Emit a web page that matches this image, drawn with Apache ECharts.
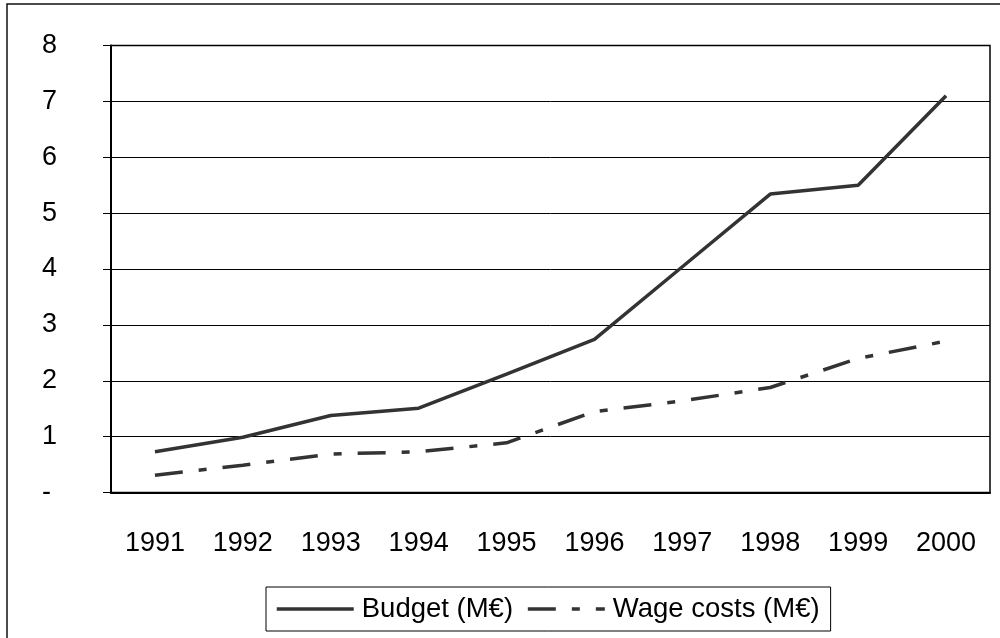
<!DOCTYPE html>
<html>
<head>
    <meta charset="utf-8">
    <title>Budget and wage costs</title>
    <script src="https://cdn.jsdelivr.net/npm/echarts@6/dist/echarts.min.js"></script>
    <style type="text/css">
        html, body { margin: 0; padding: 0; background: #fff; }
        #chart { width: 1000px; height: 638px; }
    </style>
</head>
<body>
<div id="chart"></div>
<script>
    // data
    var years = ['1991', '1992', '1993', '1994', '1995', '1996', '1997', '1998', '1999', '2000'];
    var budget = [0.73, 0.99, 1.38, 1.51, 2.12, 2.74, 4.04, 5.34, 5.50, 7.10];
    var wageCosts = [0.31, 0.49, 0.69, 0.73, 0.89, 1.45, 1.64, 1.88, 2.40, 2.71];
    var seriesNames = ['Budget (M€)', 'Wage costs (M€)'];

    var font = '"Liberation Sans", Arial, sans-serif';
    var chart = echarts.init(document.getElementById('chart'));

    var option = {
        backgroundColor: '#fff',
        animation: false,
        graphic: [{
            type: 'rect',
            shape: {x: 7, y: 4, width: 1100, height: 1000},
            style: {fill: 'none', stroke: '#111', lineWidth: 1.5},
            silent: true
        }],
        grid: {
            left: 111, top: 45.4, right: 10, bottom: 145.4,
            show: true, borderColor: '#000', borderWidth: 1.5
        },
        legend: {
            left: 266, top: 587,
            padding: [8, 11, 8, 9],
            itemGap: 13,
            itemWidth: 77,
            itemHeight: 14,
            borderColor: '#000',
            borderWidth: 1,
            lineStyle: {width: 3.5, color: '#333'},
            textStyle: {fontFamily: font, fontSize: 27.5, color: '#000', padding: [0, 0, 0, 3]},
            data: seriesNames
        },
        xAxis: {
            type: 'category',
            data: years,
            boundaryGap: true,
            axisLine: {lineStyle: {color: '#000', width: 2}},
            axisTick: {length: 8, lineStyle: {color: '#000', width: 1.5}},
            axisLabel: {fontFamily: font, fontSize: 27, color: '#000', margin: 37}
        },
        yAxis: {
            type: 'value',
            min: 0, max: 8, interval: 1,
            axisLine: {show: true, lineStyle: {color: '#000', width: 2}},
            axisTick: {show: true, length: 8, lineStyle: {color: '#000', width: 1}},
            splitLine: {lineStyle: {color: '#000', width: 1}},
            axisLabel: {
                fontFamily: font, fontSize: 27, color: '#000', margin: 69, align: 'left',
                formatter: function (v) { return v === 0 ? '-' : String(v); }
            }
        },
        series: [
            {
                name: seriesNames[0],
                type: 'line',
                data: budget,
                symbol: 'none',
                itemStyle: {color: '#333', opacity: 0},
                lineStyle: {color: '#333', width: 3.5}
            },
            {
                name: seriesNames[1],
                type: 'line',
                data: wageCosts,
                symbol: 'none',
                itemStyle: {color: '#333', opacity: 0},
                lineStyle: {color: '#333', width: 3.5, type: [28, 16, 8, 16]}
            }
        ]
    };
    chart.setOption(option);
</script>
</body>
</html>
